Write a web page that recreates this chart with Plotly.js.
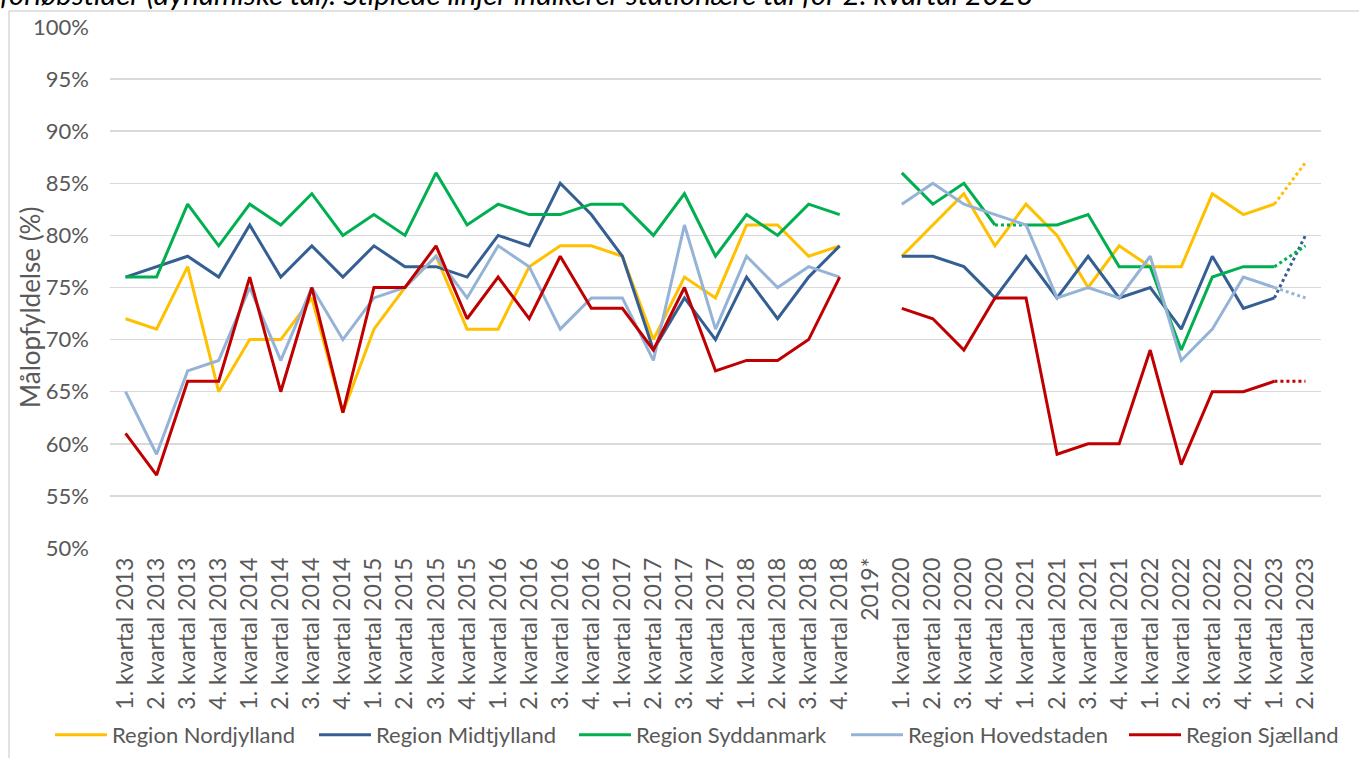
<!DOCTYPE html>
<html>
<head>
<meta charset="utf-8">
<script src="https://cdn.plot.ly/plotly-3.0.1.min.js"></script>
<style>
  html, body { margin: 0; padding: 0; background: #fff; }
  #chart { width: 1359px; height: 758px; }
</style>
</head>
<body>
<div id="chart"></div>
<script>
// Kvartaler (2019* er tom - ingen data)
const quarters = [
  '1. kvartal 2013', '2. kvartal 2013', '3. kvartal 2013', '4. kvartal 2013',
  '1. kvartal 2014', '2. kvartal 2014', '3. kvartal 2014', '4. kvartal 2014',
  '1. kvartal 2015', '2. kvartal 2015', '3. kvartal 2015', '4. kvartal 2015',
  '1. kvartal 2016', '2. kvartal 2016', '3. kvartal 2016', '4. kvartal 2016',
  '1. kvartal 2017', '2. kvartal 2017', '3. kvartal 2017', '4. kvartal 2017',
  '1. kvartal 2018', '2. kvartal 2018', '3. kvartal 2018', '4. kvartal 2018',
  '2019*',
  '1. kvartal 2020', '2. kvartal 2020', '3. kvartal 2020', '4. kvartal 2020',
  '1. kvartal 2021', '2. kvartal 2021', '3. kvartal 2021', '4. kvartal 2021',
  '1. kvartal 2022', '2. kvartal 2022', '3. kvartal 2022', '4. kvartal 2022',
  '1. kvartal 2023', '2. kvartal 2023'
];

// Målopfyldelse i procent
const nordjylland = [72, 71, 77, 65, 70, 70, 74, 63, 71, 75, 78, 71,
  71, 77, 79, 79, 78, 70, 76, 74, 81, 81, 78, 79,
  null,
  78, 81, 84, 79, 83, 80, 75, 79, 77, 77, 84, 82, 83, 87];
const midtjylland = [76, 77, 78, 76, 81, 76, 79, 76, 79, 77, 77, 76,
  80, 79, 85, 82, 78, 69, 74, 70, 76, 72, 76, 79,
  null,
  78, 78, 77, 74, 78, 74, 78, 74, 75, 71, 78, 73, 74, 80];
const syddanmark = [76, 76, 83, 79, 83, 81, 84, 80, 82, 80, 86, 81,
  83, 82, 82, 83, 83, 80, 84, 78, 82, 80, 83, 82,
  null,
  86, 83, 85, 81, 81, 81, 82, 77, 77, 69, 76, 77, 77, 79];
const hovedstaden = [65, 59, 67, 68, 75, 68, 75, 70, 74, 75, 78, 74,
  79, 77, 71, 74, 74, 68, 81, 71, 78, 75, 77, 76,
  null,
  83, 85, 83, 82, 81, 74, 75, 74, 78, 68, 71, 76, 75, 74];
const sjaelland = [61, 57, 66, 66, 76, 65, 75, 63, 75, 75, 79, 72,
  76, 72, 78, 73, 73, 69, 75, 67, 68, 68, 70, 76,
  null,
  73, 72, 69, 74, 74, 59, 60, 60, 69, 58, 65, 65, 66, 66];

const regionNames = ['Region Nordjylland', 'Region Midtjylland', 'Region Syddanmark',
  'Region Hovedstaden', 'Region Sjælland'];
const regionValues = [nordjylland, midtjylland, syddanmark, hovedstaden, sjaelland];
const regionColors = ['#FFC000', '#355F93', '#00B050', '#95B3D7', '#C00000'];

// Stiplede stykker: [fra-indeks, til-indeks] pr. region
const dottedLinks = [
  [[37, 38]],
  [[37, 38]],
  [[28, 29], [37, 38]],
  [[37, 38]],
  [[37, 38]]
];

const legendIds = ['legend', 'legend2', 'legend3', 'legend4', 'legend5'];

const traces = [];
regionValues.forEach((vals, r) => {
  const links = dottedLinks[r];
  // Opdel den fuldt optrukne linje ved de stiplede stykker
  let start = 0;
  const pieces = [];
  links.forEach(l => { pieces.push([start, l[0]]); start = l[0] + 1; });
  if (start < vals.length) pieces.push([start, vals.length - 1]);

  pieces.forEach((p, i) => {
    const y = vals.map((v, k) => (k >= p[0] && k <= p[1]) ? v : null);
    traces.push({
      x: quarters, y: y, type: 'scatter', mode: 'lines',
      name: regionNames[r], legendgroup: regionNames[r],
      legend: legendIds[r],
      showlegend: i === 0,
      line: { color: regionColors[r], width: 3 },
      connectgaps: false, hoverinfo: 'skip'
    });
  });

  links.forEach(l => {
    const y = vals.map((v, k) => (k === l[0] || k === l[1]) ? v : null);
    traces.push({
      x: quarters, y: y, type: 'scatter', mode: 'lines',
      name: regionNames[r], legendgroup: regionNames[r], showlegend: false,
      legend: legendIds[r],
      line: { color: regionColors[r], width: 3, dash: 'dot' },
      connectgaps: false, hoverinfo: 'skip'
    });
  });
});

const fontFam = 'Lato, "Noto Sans", sans-serif';
const gray = '#595959';

const layout = {
  width: 1359, height: 758,
  margin: { t: 27, r: 38, b: 210, l: 110 },
  paper_bgcolor: '#ffffff',
  plot_bgcolor: '#ffffff',
  font: { family: fontFam, color: gray, size: 22 },
  showlegend: true,
  xaxis: {
    type: 'category',
    categoryorder: 'array', categoryarray: quarters,
    tickangle: -90,
    showgrid: false, zeroline: false,
    showline: false, ticks: '',
    ticklabelstandoff: 4,
    tickfont: { family: fontFam, size: 23, color: gray },
    range: [-0.5, quarters.length - 0.5]
  },
  yaxis: {
    range: [50, 100],
    dtick: 5,
    ticksuffix: '%',
    showgrid: true, gridcolor: '#D9D9D9', gridwidth: 1.5,
    zeroline: false, showline: false, ticks: '',
    ticklabelstandoff: 20,
    tickfont: { family: fontFam, size: 22, color: gray }
  },
  annotations: [
    {
      text: '<i>forløbstider (dynamiske tal). Stiplede linjer indikerer stationære tal for 2. kvartal 2023</i>',
      xref: 'paper', yref: 'paper',
      x: (-2 - 110) / 1211, xanchor: 'left',
      y: (548 - 13) / 521, yanchor: 'bottom',
      showarrow: false,
      font: { family: fontFam, size: 29.5, color: '#000000' }
    },
    {
      text: 'Målopfyldelse (%)',
      xref: 'paper', yref: 'paper',
      x: (30 - 110) / 1211, xanchor: 'center',
      y: (548 - 308) / 521, yanchor: 'middle',
      textangle: -90,
      showarrow: false,
      font: { family: fontFam, size: 26, color: gray }
    }
  ],
  shapes: [
    { type: 'line', xref: 'paper', yref: 'paper',
      x0: (9 - 110) / 1211, x1: (1359 - 110) / 1211,
      y0: (548 - 11) / 521, y1: (548 - 11) / 521,
      line: { color: '#D9D9D9', width: 1.5 } },
    { type: 'line', xref: 'paper', yref: 'paper',
      x0: (9 - 110) / 1211, x1: (9 - 110) / 1211,
      y0: (548 - 11) / 521, y1: (548 - 770) / 521,
      line: { color: '#D9D9D9', width: 1.5 } }
  ]
};

// En forklaring pr. region, placeret som i originalen
const legendLeft = [50, 314, 574, 846, 1124];
legendIds.forEach((id, i) => {
  layout[id] = {
    orientation: 'h',
    xref: 'container', yref: 'container',
    x: legendLeft[i] / 1359, xanchor: 'left',
    y: (758 - 735) / 758, yanchor: 'middle',
    itemwidth: 52,
    bgcolor: 'rgba(0,0,0,0)',
    font: { family: fontFam, size: 22, color: gray }
  };
});

Plotly.newPlot('chart', traces, layout, { displayModeBar: false, staticPlot: true });
</script>
</body>
</html>
